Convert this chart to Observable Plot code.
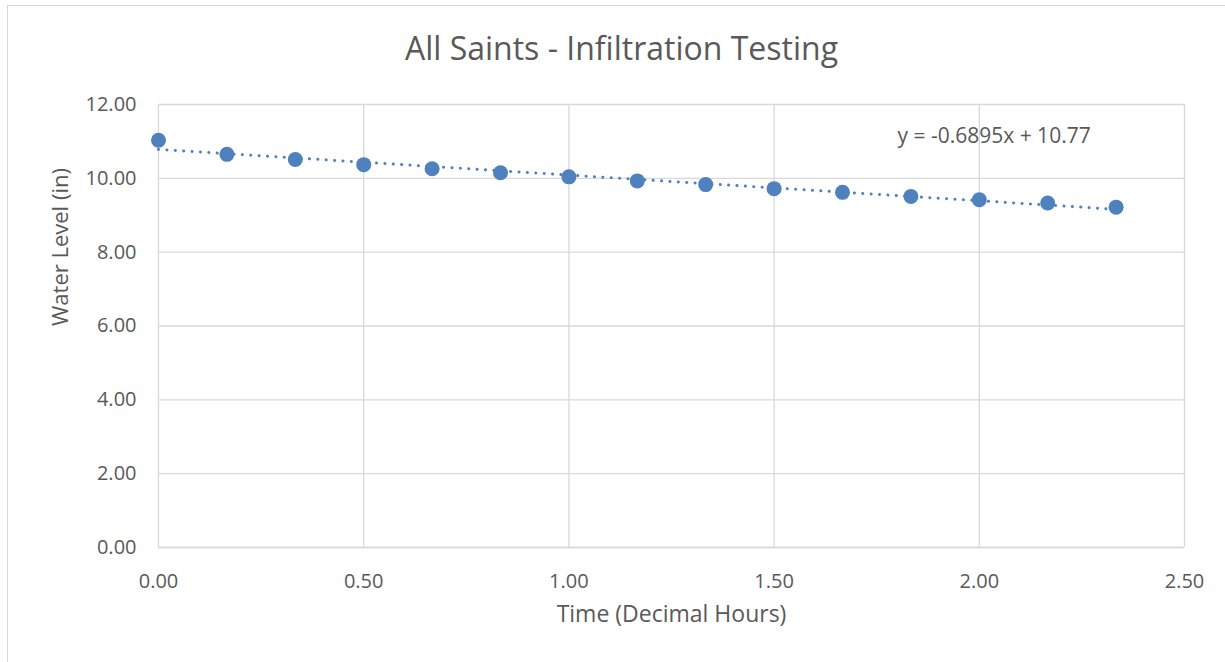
<!DOCTYPE html>
<html>
<head>
<meta charset="utf-8">
<script src="https://cdn.jsdelivr.net/npm/d3@7"></script>
<script src="https://cdn.jsdelivr.net/npm/@observablehq/plot@0.6"></script>
<style>
  html, body { margin: 0; padding: 0; background: #fff; overflow: hidden; }
  #wrap { position: relative; width: 1225px; height: 662px; }
  #frame { position: absolute; left: 7px; top: 5px; width: 1240px; height: 700px; border: 1.5px solid #d9d9d9; box-sizing: border-box; pointer-events: none; }
  #chart { position: absolute; left: 0; top: 0; }
</style>
</head>
<body>
<div id="wrap">
  <div id="frame"></div>
  <div id="chart"></div>
</div>
<script>
const timeHours = [0, 1/6, 2/6, 3/6, 4/6, 5/6, 1, 7/6, 8/6, 9/6, 10/6, 11/6, 2, 13/6, 14/6];
const waterLevel = [11.03, 10.65, 10.51, 10.37, 10.26, 10.15, 10.04, 9.93, 9.83, 9.72, 9.62, 9.51, 9.42, 9.33, 9.22];
const xTicks = [0, 0.5, 1, 1.5, 2, 2.5];
const yTicks = [0, 2, 4, 6, 8, 10, 12];
const titleText = "All Saints - Infiltration Testing";
const xLabel = "Time (Decimal Hours)";
const yLabel = "Water Level (in)";
const equationLabel = "y = -0.6895x + 10.77";
const labelAt = {x: 2.036, y: 10.97};

const data = timeHours.map((t, i) => ({t, w: waterLevel[i]}));
const blue = "#4e81bd";
const textGray = "#595959";
const gridGray = "#d9d9d9";
const fmt = d3.format(".2f");

const chart = Plot.plot({
  width: 1225,
  height: 662,
  marginLeft: 158,
  marginRight: 41,
  marginTop: 104,
  marginBottom: 115,
  style: {fontFamily: "Open Sans, sans-serif", fontSize: "20px", color: textGray, background: "transparent", overflow: "visible"},
  x: {domain: [0, 2.5], label: null},
  y: {domain: [0, 12], label: null},
  marks: [
    Plot.gridX(xTicks, {stroke: gridGray, strokeOpacity: 1, strokeWidth: 1.3}),
    Plot.gridY(yTicks, {stroke: gridGray, strokeOpacity: 1, strokeWidth: 1.3}),
    Plot.ruleY([0], {stroke: gridGray, strokeWidth: 1.5}),
    Plot.axisX({ticks: xTicks, tickFormat: fmt, tickSize: 0, tickPadding: 26, fontSize: 20, fill: textGray, label: null}),
    Plot.axisY({ticks: yTicks, tickFormat: fmt, tickSize: 0, tickPadding: 22, fontSize: 20, fill: textGray, label: null}),
    Plot.linearRegressionY(data, {x: "t", y: "w", ci: 0, stroke: blue, strokeWidth: 3, strokeDasharray: "0.1,8.3", strokeLinecap: "round"}),
    Plot.dot(data, {x: "t", y: "w", r: 7.5, fill: blue, stroke: "none"}),
    Plot.text([equationLabel], {x: () => labelAt.x, y: () => labelAt.y, text: d => d, fontSize: 21, fill: textGray, lineAnchor: "bottom"}),
    Plot.text([titleText], {frameAnchor: "top", dx: -50, dy: -45, lineAnchor: "bottom", text: d => d, fontSize: 32, fill: textGray}),
    Plot.text([xLabel], {frameAnchor: "bottom", dy: 74, lineAnchor: "bottom", text: d => d, fontSize: 23, fill: textGray}),
    Plot.text([yLabel], {frameAnchor: "left", dx: -91, rotate: -90, lineAnchor: "bottom", text: d => d, fontSize: 22, fill: textGray})
  ]
});
document.getElementById("chart").appendChild(chart);
</script>
</body>
</html>
